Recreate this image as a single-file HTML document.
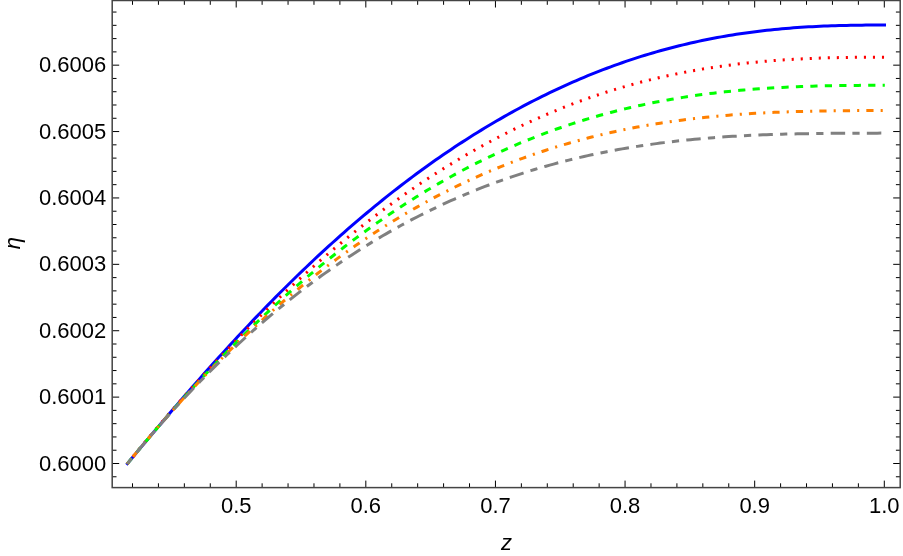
<!DOCTYPE html>
<html><head><meta charset="utf-8"><title>plot</title>
<style>
html,body{margin:0;padding:0;background:#fff;}
body{width:903px;height:556px;overflow:hidden;}
svg{display:block;will-change:transform;}
text{font-family:"Liberation Sans",sans-serif;font-size:22px;fill:#000;}
.it{font-style:italic;}
.c{fill:none;stroke-width:3;stroke-linecap:butt;stroke-linejoin:round;}
.tk{stroke:#000;stroke-width:1;fill:none;}
.fr{stroke:#444;stroke-width:1.5;fill:none;}
</style></head><body>
<svg width="903" height="556" viewBox="0 0 903 556">
<rect width="903" height="556" fill="#fff"/>
<path class="c" d="M126.43,464.82 L127.20,463.90 L131.01,459.31 L134.81,454.73 L138.62,450.16 L142.43,445.60 L146.24,441.05 L150.04,436.51 L153.85,431.99 L157.66,427.48 L161.46,422.98 L165.27,418.50 L169.08,414.03 L172.88,409.58 L176.69,405.14 L180.50,400.72 L184.31,396.32 L188.11,391.94 L191.92,387.58 L195.73,383.23 L199.53,378.91 L203.34,374.60 L207.15,370.32 L210.95,366.06 L214.76,361.81 L218.57,357.59 L222.38,353.39 L226.18,349.22 L229.99,345.07 L233.80,340.94 L237.60,336.83 L241.41,332.75 L245.22,328.69 L249.03,324.66 L252.83,320.65 L256.64,316.66 L260.45,312.70 L264.25,308.77 L268.06,304.86 L271.87,300.98 L275.67,297.12 L279.48,293.29 L283.29,289.49 L287.10,285.71 L290.90,281.96 L294.71,278.23 L298.52,274.54 L302.32,270.87 L306.13,267.23 L309.94,263.61 L313.74,260.02 L317.55,256.46 L321.36,252.93 L325.17,249.43 L328.97,245.95 L332.78,242.50 L336.59,239.08 L340.39,235.69 L344.20,232.32 L348.01,228.99 L351.82,225.68 L355.62,222.40 L359.43,219.15 L363.24,215.93 L367.04,212.73 L370.85,209.57 L374.66,206.43 L378.46,203.32 L382.27,200.24 L386.08,197.19 L389.89,194.16 L393.69,191.17 L397.50,188.20 L401.31,185.26 L405.11,182.35 L408.92,179.47 L412.73,176.62 L416.53,173.80 L420.34,171.00 L424.15,168.23 L427.96,165.50 L431.76,162.78 L435.57,160.10 L439.38,157.45 L443.18,154.82 L446.99,152.23 L450.80,149.66 L454.61,147.12 L458.41,144.61 L462.22,142.12 L466.03,139.67 L469.83,137.24 L473.64,134.84 L477.45,132.47 L481.25,130.13 L485.06,127.81 L488.87,125.52 L492.68,123.26 L496.48,121.03 L500.29,118.83 L504.10,116.65 L507.90,114.50 L511.71,112.38 L515.52,110.29 L519.32,108.22 L523.13,106.19 L526.94,104.18 L530.75,102.19 L534.55,100.24 L538.36,98.31 L542.17,96.41 L545.97,94.54 L549.78,92.69 L553.59,90.87 L557.39,89.08 L561.20,87.32 L565.01,85.58 L568.82,83.87 L572.62,82.19 L576.43,80.53 L580.24,78.90 L584.04,77.30 L587.85,75.72 L591.66,74.17 L595.47,72.65 L599.27,71.16 L603.08,69.69 L606.89,68.24 L610.69,66.83 L614.50,65.44 L618.31,64.07 L622.11,62.74 L625.92,61.42 L629.73,60.14 L633.54,58.88 L637.34,57.65 L641.15,56.44 L644.96,55.26 L648.76,54.10 L652.57,52.97 L656.38,51.87 L660.18,50.79 L663.99,49.73 L667.80,48.70 L671.61,47.70 L675.41,46.72 L679.22,45.77 L683.03,44.84 L686.83,43.93 L690.64,43.05 L694.45,42.19 L698.26,41.36 L702.06,40.55 L705.87,39.77 L709.68,39.01 L713.48,38.27 L717.29,37.56 L721.10,36.87 L724.90,36.20 L728.71,35.56 L732.52,34.93 L736.33,34.33 L740.13,33.76 L743.94,33.20 L747.75,32.67 L751.55,32.15 L755.36,31.66 L759.17,31.19 L762.97,30.74 L766.78,30.31 L770.59,29.91 L774.40,29.52 L778.20,29.15 L782.01,28.80 L785.82,28.46 L789.62,28.15 L793.43,27.85 L797.24,27.58 L801.05,27.32 L804.85,27.07 L808.66,26.85 L812.47,26.64 L816.27,26.44 L820.08,26.26 L823.89,26.10 L827.69,25.95 L831.50,25.81 L835.31,25.68 L839.12,25.57 L842.92,25.47 L846.73,25.39 L850.54,25.31 L854.34,25.24 L858.15,25.19 L861.96,25.14 L865.76,25.10 L869.57,25.07 L873.38,25.04 L877.19,25.02 L880.99,25.01 L884.80,25.00 L886.00,25.00" stroke="#0000ff"/>
<path class="c" d="M127.20,463.90 L131.01,459.20 L134.81,454.53 L138.62,449.89 L142.43,445.27 L146.24,440.69 L150.04,436.13 L153.85,431.59 L157.66,427.09 L161.46,422.61 L165.27,418.16 L169.08,413.74 L172.88,409.34 L176.69,404.98 L180.50,400.64 L184.31,396.32 L188.11,392.04 L191.92,387.78 L195.73,383.55 L199.53,379.35 L203.34,375.18 L207.15,371.03 L210.95,366.91 L214.76,362.82 L218.57,358.76 L222.38,354.72 L226.18,350.71 L229.99,346.73 L233.80,342.78 L237.60,338.86 L241.41,334.96 L245.22,331.09 L249.03,327.25 L252.83,323.44 L256.64,319.65 L260.45,315.90 L264.25,312.17 L268.06,308.47 L271.87,304.79 L275.67,301.15 L279.48,297.53 L283.29,293.94 L287.10,290.38 L290.90,286.85 L294.71,283.35 L298.52,279.87 L302.32,276.42 L306.13,273.00 L309.94,269.61 L313.74,266.25 L317.55,262.91 L321.36,259.61 L325.17,256.33 L328.97,253.08 L332.78,249.86 L336.59,246.67 L340.39,243.50 L344.20,240.36 L348.01,237.26 L351.82,234.18 L355.62,231.13 L359.43,228.10 L363.24,225.11 L367.04,222.14 L370.85,219.21 L374.66,216.30 L378.46,213.42 L382.27,210.56 L386.08,207.74 L389.89,204.95 L393.69,202.18 L397.50,199.44 L401.31,196.73 L405.11,194.05 L408.92,191.40 L412.73,188.78 L416.53,186.18 L420.34,183.61 L424.15,181.07 L427.96,178.56 L431.76,176.08 L435.57,173.63 L439.38,171.20 L443.18,168.81 L446.99,166.44 L450.80,164.10 L454.61,161.79 L458.41,159.50 L462.22,157.25 L466.03,155.02 L469.83,152.82 L473.64,150.65 L477.45,148.51 L481.25,146.40 L485.06,144.31 L488.87,142.25 L492.68,140.22 L496.48,138.22 L500.29,136.24 L504.10,134.30 L507.90,132.38 L511.71,130.49 L515.52,128.62 L519.32,126.79 L523.13,124.98 L526.94,123.20 L530.75,121.44 L534.55,119.72 L538.36,118.02 L542.17,116.35 L545.97,114.70 L549.78,113.08 L553.59,111.49 L557.39,109.93 L561.20,108.39 L565.01,106.88 L568.82,105.39 L572.62,103.94 L576.43,102.50 L580.24,101.10 L584.04,99.72 L587.85,98.36 L591.66,97.04 L595.47,95.74 L599.27,94.46 L603.08,93.21 L606.89,91.98 L610.69,90.78 L614.50,89.61 L618.31,88.46 L622.11,87.33 L625.92,86.23 L629.73,85.16 L633.54,84.10 L637.34,83.08 L641.15,82.07 L644.96,81.09 L648.76,80.14 L652.57,79.21 L656.38,78.30 L660.18,77.41 L663.99,76.55 L667.80,75.71 L671.61,74.89 L675.41,74.10 L679.22,73.32 L683.03,72.57 L686.83,71.84 L690.64,71.14 L694.45,70.45 L698.26,69.78 L702.06,69.14 L705.87,68.52 L709.68,67.91 L713.48,67.33 L717.29,66.77 L721.10,66.23 L724.90,65.70 L728.71,65.20 L732.52,64.71 L736.33,64.25 L740.13,63.80 L743.94,63.37 L747.75,62.95 L751.55,62.56 L755.36,62.18 L759.17,61.82 L762.97,61.48 L766.78,61.15 L770.59,60.84 L774.40,60.54 L778.20,60.26 L782.01,60.00 L785.82,59.75 L789.62,59.51 L793.43,59.29 L797.24,59.08 L801.05,58.88 L804.85,58.70 L808.66,58.53 L812.47,58.37 L816.27,58.23 L820.08,58.10 L823.89,57.97 L827.69,57.86 L831.50,57.76 L835.31,57.67 L839.12,57.59 L842.92,57.51 L846.73,57.45 L850.54,57.39 L854.34,57.34 L858.15,57.30 L861.96,57.27 L865.76,57.24 L869.57,57.22 L873.38,57.20 L877.19,57.19 L880.99,57.19 L884.80,57.19" stroke="#ff0000" stroke-dasharray="2.1 6.931"/>
<path class="c" d="M127.20,463.90 L131.01,459.25 L134.81,454.62 L138.62,450.03 L142.43,445.46 L146.24,440.93 L150.04,436.42 L153.85,431.95 L157.66,427.50 L161.46,423.09 L165.27,418.70 L169.08,414.35 L172.88,410.02 L176.69,405.73 L180.50,401.46 L184.31,397.23 L188.11,393.02 L191.92,388.85 L195.73,384.71 L199.53,380.60 L203.34,376.51 L207.15,372.46 L210.95,368.44 L214.76,364.45 L218.57,360.49 L222.38,356.56 L226.18,352.66 L229.99,348.79 L233.80,344.96 L237.60,341.15 L241.41,337.37 L245.22,333.63 L249.03,329.91 L252.83,326.23 L256.64,322.58 L260.45,318.96 L264.25,315.36 L268.06,311.80 L271.87,308.27 L275.67,304.77 L279.48,301.31 L283.29,297.87 L287.10,294.46 L290.90,291.08 L294.71,287.74 L298.52,284.42 L302.32,281.14 L306.13,277.89 L309.94,274.66 L313.74,271.47 L317.55,268.31 L321.36,265.18 L325.17,262.08 L328.97,259.01 L332.78,255.97 L336.59,252.97 L340.39,249.99 L344.20,247.04 L348.01,244.12 L351.82,241.24 L355.62,238.38 L359.43,235.56 L363.24,232.76 L367.04,229.99 L370.85,227.26 L374.66,224.56 L378.46,221.88 L382.27,219.24 L386.08,216.62 L389.89,214.04 L393.69,211.48 L397.50,208.96 L401.31,206.46 L405.11,204.00 L408.92,201.56 L412.73,199.16 L416.53,196.78 L420.34,194.43 L424.15,192.11 L427.96,189.83 L431.76,187.57 L435.57,185.34 L439.38,183.14 L443.18,180.96 L446.99,178.82 L450.80,176.71 L454.61,174.62 L458.41,172.56 L462.22,170.54 L466.03,168.54 L469.83,166.56 L473.64,164.62 L477.45,162.71 L481.25,160.82 L485.06,158.96 L488.87,157.13 L492.68,155.32 L496.48,153.55 L500.29,151.80 L504.10,150.08 L507.90,148.38 L511.71,146.72 L515.52,145.08 L519.32,143.46 L523.13,141.88 L526.94,140.32 L530.75,138.79 L534.55,137.28 L538.36,135.80 L542.17,134.34 L545.97,132.92 L549.78,131.51 L553.59,130.14 L557.39,128.78 L561.20,127.46 L565.01,126.16 L568.82,124.88 L572.62,123.63 L576.43,122.40 L580.24,121.20 L584.04,120.02 L587.85,118.87 L591.66,117.74 L595.47,116.64 L599.27,115.55 L603.08,114.50 L606.89,113.46 L610.69,112.45 L614.50,111.46 L618.31,110.49 L622.11,109.55 L625.92,108.63 L629.73,107.73 L633.54,106.85 L637.34,106.00 L641.15,105.17 L644.96,104.35 L648.76,103.56 L652.57,102.79 L656.38,102.04 L660.18,101.31 L663.99,100.60 L667.80,99.92 L671.61,99.25 L675.41,98.60 L679.22,97.97 L683.03,97.36 L686.83,96.77 L690.64,96.19 L694.45,95.64 L698.26,95.10 L702.06,94.58 L705.87,94.08 L709.68,93.60 L713.48,93.14 L717.29,92.69 L721.10,92.25 L724.90,91.84 L728.71,91.44 L732.52,91.05 L736.33,90.69 L740.13,90.33 L743.94,90.00 L747.75,89.67 L751.55,89.36 L755.36,89.07 L759.17,88.79 L762.97,88.52 L766.78,88.27 L770.59,88.03 L774.40,87.80 L778.20,87.59 L782.01,87.38 L785.82,87.19 L789.62,87.01 L793.43,86.84 L797.24,86.69 L801.05,86.54 L804.85,86.40 L808.66,86.28 L812.47,86.16 L816.27,86.05 L820.08,85.95 L823.89,85.86 L827.69,85.78 L831.50,85.71 L835.31,85.64 L839.12,85.58 L842.92,85.53 L846.73,85.48 L850.54,85.44 L854.34,85.41 L858.15,85.38 L861.96,85.36 L865.76,85.34 L869.57,85.32 L873.38,85.31 L877.19,85.30 L880.99,85.30 L884.80,85.30" stroke="#00ff00" stroke-dasharray="7.231 7.231"/>
<path class="c" d="M127.20,463.90 L131.01,459.22 L134.81,454.57 L138.62,449.96 L142.43,445.39 L146.24,440.86 L150.04,436.36 L153.85,431.90 L157.66,427.47 L161.46,423.09 L165.27,418.74 L169.08,414.42 L172.88,410.14 L176.69,405.90 L180.50,401.70 L184.31,397.53 L188.11,393.39 L191.92,389.30 L195.73,385.24 L199.53,381.21 L203.34,377.22 L207.15,373.26 L210.95,369.34 L214.76,365.46 L218.57,361.61 L222.38,357.80 L226.18,354.02 L229.99,350.27 L233.80,346.56 L237.60,342.89 L241.41,339.25 L245.22,335.64 L249.03,332.07 L252.83,328.53 L256.64,325.03 L260.45,321.56 L264.25,318.12 L268.06,314.72 L271.87,311.35 L275.67,308.02 L279.48,304.72 L283.29,301.45 L287.10,298.22 L290.90,295.02 L294.71,291.85 L298.52,288.72 L302.32,285.61 L306.13,282.55 L309.94,279.51 L313.74,276.51 L317.55,273.54 L321.36,270.60 L325.17,267.69 L328.97,264.82 L332.78,261.97 L336.59,259.16 L340.39,256.39 L344.20,253.64 L348.01,250.92 L351.82,248.24 L355.62,245.59 L359.43,242.97 L363.24,240.38 L367.04,237.82 L370.85,235.29 L374.66,232.79 L378.46,230.33 L382.27,227.89 L386.08,225.49 L389.89,223.11 L393.69,220.77 L397.50,218.45 L401.31,216.17 L405.11,213.91 L408.92,211.69 L412.73,209.49 L416.53,207.33 L420.34,205.19 L424.15,203.08 L427.96,201.00 L431.76,198.95 L435.57,196.93 L439.38,194.94 L443.18,192.98 L446.99,191.04 L450.80,189.13 L454.61,187.26 L458.41,185.40 L462.22,183.58 L466.03,181.79 L469.83,180.02 L473.64,178.28 L477.45,176.57 L481.25,174.88 L485.06,173.22 L488.87,171.59 L492.68,169.98 L496.48,168.40 L500.29,166.85 L504.10,165.32 L507.90,163.82 L511.71,162.35 L515.52,160.90 L519.32,159.48 L523.13,158.08 L526.94,156.71 L530.75,155.36 L534.55,154.04 L538.36,152.74 L542.17,151.47 L545.97,150.22 L549.78,148.99 L553.59,147.79 L557.39,146.62 L561.20,145.46 L565.01,144.33 L568.82,143.23 L572.62,142.14 L576.43,141.08 L580.24,140.05 L584.04,139.03 L587.85,138.04 L591.66,137.07 L595.47,136.12 L599.27,135.20 L603.08,134.29 L606.89,133.41 L610.69,132.55 L614.50,131.71 L618.31,130.89 L622.11,130.09 L625.92,129.31 L629.73,128.55 L633.54,127.81 L637.34,127.09 L641.15,126.39 L644.96,125.71 L648.76,125.05 L652.57,124.41 L656.38,123.79 L660.18,123.18 L663.99,122.59 L667.80,122.02 L671.61,121.47 L675.41,120.94 L679.22,120.42 L683.03,119.92 L686.83,119.44 L690.64,118.97 L694.45,118.52 L698.26,118.09 L702.06,117.67 L705.87,117.27 L709.68,116.88 L713.48,116.51 L717.29,116.15 L721.10,115.81 L724.90,115.48 L728.71,115.16 L732.52,114.86 L736.33,114.57 L740.13,114.30 L743.94,114.03 L747.75,113.78 L751.55,113.54 L755.36,113.32 L759.17,113.10 L762.97,112.90 L766.78,112.71 L770.59,112.53 L774.40,112.36 L778.20,112.20 L782.01,112.05 L785.82,111.91 L789.62,111.77 L793.43,111.65 L797.24,111.54 L801.05,111.43 L804.85,111.33 L808.66,111.24 L812.47,111.16 L816.27,111.08 L820.08,111.01 L823.89,110.95 L827.69,110.89 L831.50,110.84 L835.31,110.79 L839.12,110.75 L842.92,110.72 L846.73,110.68 L850.54,110.65 L854.34,110.63 L858.15,110.60 L861.96,110.59 L865.76,110.57 L869.57,110.55 L873.38,110.54 L877.19,110.53 L880.99,110.51 L884.80,110.50" stroke="#ff8000" stroke-dasharray="2.1 7.081 7.231 7.081"/>
<path class="c" d="M127.20,463.90 L131.01,459.21 L134.81,454.56 L138.62,449.96 L142.43,445.40 L146.24,440.88 L150.04,436.40 L153.85,431.97 L157.66,427.58 L161.46,423.23 L165.27,418.92 L169.08,414.66 L172.88,410.43 L176.69,406.25 L180.50,402.11 L184.31,398.01 L188.11,393.95 L191.92,389.92 L195.73,385.94 L199.53,382.00 L203.34,378.10 L207.15,374.24 L210.95,370.42 L214.76,366.64 L218.57,362.89 L222.38,359.19 L226.18,355.52 L229.99,351.89 L233.80,348.30 L237.60,344.75 L241.41,341.24 L245.22,337.76 L249.03,334.32 L252.83,330.92 L256.64,327.55 L260.45,324.22 L264.25,320.93 L268.06,317.68 L271.87,314.46 L275.67,311.28 L279.48,308.13 L283.29,305.02 L287.10,301.94 L290.90,298.90 L294.71,295.90 L298.52,292.93 L302.32,289.99 L306.13,287.09 L309.94,284.23 L313.74,281.39 L317.55,278.60 L321.36,275.83 L325.17,273.10 L328.97,270.41 L332.78,267.74 L336.59,265.11 L340.39,262.52 L344.20,259.95 L348.01,257.42 L351.82,254.92 L355.62,252.45 L359.43,250.02 L363.24,247.61 L367.04,245.24 L370.85,242.90 L374.66,240.60 L378.46,238.32 L382.27,236.07 L386.08,233.86 L389.89,231.67 L393.69,229.52 L397.50,227.39 L401.31,225.30 L405.11,223.23 L408.92,221.20 L412.73,219.19 L416.53,217.22 L420.34,215.27 L424.15,213.36 L427.96,211.47 L431.76,209.61 L435.57,207.78 L439.38,205.97 L443.18,204.20 L446.99,202.45 L450.80,200.73 L454.61,199.04 L458.41,197.37 L462.22,195.74 L466.03,194.12 L469.83,192.54 L473.64,190.98 L477.45,189.45 L481.25,187.95 L485.06,186.47 L488.87,185.02 L492.68,183.59 L496.48,182.19 L500.29,180.81 L504.10,179.46 L507.90,178.13 L511.71,176.83 L515.52,175.55 L519.32,174.30 L523.13,173.07 L526.94,171.86 L530.75,170.68 L534.55,169.52 L538.36,168.39 L542.17,167.28 L545.97,166.19 L549.78,165.12 L553.59,164.08 L557.39,163.05 L561.20,162.06 L565.01,161.08 L568.82,160.12 L572.62,159.19 L576.43,158.27 L580.24,157.38 L584.04,156.51 L587.85,155.66 L591.66,154.83 L595.47,154.02 L599.27,153.23 L603.08,152.46 L606.89,151.70 L610.69,150.97 L614.50,150.26 L618.31,149.57 L622.11,148.89 L625.92,148.23 L629.73,147.60 L633.54,146.97 L637.34,146.37 L641.15,145.79 L644.96,145.22 L648.76,144.67 L652.57,144.13 L656.38,143.62 L660.18,143.11 L663.99,142.63 L667.80,142.16 L671.61,141.71 L675.41,141.27 L679.22,140.84 L683.03,140.44 L686.83,140.04 L690.64,139.66 L694.45,139.30 L698.26,138.95 L702.06,138.61 L705.87,138.29 L709.68,137.97 L713.48,137.68 L717.29,137.39 L721.10,137.12 L724.90,136.86 L728.71,136.61 L732.52,136.37 L736.33,136.15 L740.13,135.93 L743.94,135.73 L747.75,135.53 L751.55,135.35 L755.36,135.18 L759.17,135.01 L762.97,134.86 L766.78,134.71 L770.59,134.58 L774.40,134.45 L778.20,134.33 L782.01,134.22 L785.82,134.11 L789.62,134.02 L793.43,133.93 L797.24,133.84 L801.05,133.77 L804.85,133.70 L808.66,133.63 L812.47,133.57 L816.27,133.52 L820.08,133.47 L823.89,133.43 L827.69,133.39 L831.50,133.36 L835.31,133.32 L839.12,133.30 L842.92,133.27 L846.73,133.25 L850.54,133.23 L854.34,133.21 L858.15,133.19 L861.96,133.18 L865.76,133.16 L869.57,133.15 L873.38,133.14 L877.19,133.13 L880.99,133.11 L884.80,133.10" stroke="#808080" stroke-dasharray="7.231 7.231 14.462 7.231"/>
<path class="tk" d="M132.50,487.6 v-4.3 M132.50,0.5 v4.3 M158.43,487.6 v-4.3 M158.43,0.5 v4.3 M184.35,487.6 v-4.3 M184.35,0.5 v4.3 M210.28,487.6 v-4.3 M210.28,0.5 v4.3 M236.20,487.6 v-7.0 M236.20,0.5 v7.0 M262.12,487.6 v-4.3 M262.12,0.5 v4.3 M288.05,487.6 v-4.3 M288.05,0.5 v4.3 M313.97,487.6 v-4.3 M313.97,0.5 v4.3 M339.90,487.6 v-4.3 M339.90,0.5 v4.3 M365.82,487.6 v-7.0 M365.82,0.5 v7.0 M391.74,487.6 v-4.3 M391.74,0.5 v4.3 M417.67,487.6 v-4.3 M417.67,0.5 v4.3 M443.59,487.6 v-4.3 M443.59,0.5 v4.3 M469.52,487.6 v-4.3 M469.52,0.5 v4.3 M495.44,487.6 v-7.0 M495.44,0.5 v7.0 M521.36,487.6 v-4.3 M521.36,0.5 v4.3 M547.29,487.6 v-4.3 M547.29,0.5 v4.3 M573.21,487.6 v-4.3 M573.21,0.5 v4.3 M599.14,487.6 v-4.3 M599.14,0.5 v4.3 M625.06,487.6 v-7.0 M625.06,0.5 v7.0 M650.98,487.6 v-4.3 M650.98,0.5 v4.3 M676.91,487.6 v-4.3 M676.91,0.5 v4.3 M702.83,487.6 v-4.3 M702.83,0.5 v4.3 M728.76,487.6 v-4.3 M728.76,0.5 v4.3 M754.68,487.6 v-7.0 M754.68,0.5 v7.0 M780.60,487.6 v-4.3 M780.60,0.5 v4.3 M806.53,487.6 v-4.3 M806.53,0.5 v4.3 M832.45,487.6 v-4.3 M832.45,0.5 v4.3 M858.38,487.6 v-4.3 M858.38,0.5 v4.3 M884.30,487.6 v-7.0 M884.30,0.5 v7.0 M112.2,476.78 h4.3 M900.2,476.78 h-4.3 M112.2,463.50 h7.0 M900.2,463.50 h-7.0 M112.2,450.22 h4.3 M900.2,450.22 h-4.3 M112.2,436.94 h4.3 M900.2,436.94 h-4.3 M112.2,423.67 h4.3 M900.2,423.67 h-4.3 M112.2,410.39 h4.3 M900.2,410.39 h-4.3 M112.2,397.11 h7.0 M900.2,397.11 h-7.0 M112.2,383.83 h4.3 M900.2,383.83 h-4.3 M112.2,370.55 h4.3 M900.2,370.55 h-4.3 M112.2,357.28 h4.3 M900.2,357.28 h-4.3 M112.2,344.00 h4.3 M900.2,344.00 h-4.3 M112.2,330.72 h7.0 M900.2,330.72 h-7.0 M112.2,317.44 h4.3 M900.2,317.44 h-4.3 M112.2,304.16 h4.3 M900.2,304.16 h-4.3 M112.2,290.89 h4.3 M900.2,290.89 h-4.3 M112.2,277.61 h4.3 M900.2,277.61 h-4.3 M112.2,264.33 h7.0 M900.2,264.33 h-7.0 M112.2,251.05 h4.3 M900.2,251.05 h-4.3 M112.2,237.77 h4.3 M900.2,237.77 h-4.3 M112.2,224.50 h4.3 M900.2,224.50 h-4.3 M112.2,211.22 h4.3 M900.2,211.22 h-4.3 M112.2,197.94 h7.0 M900.2,197.94 h-7.0 M112.2,184.66 h4.3 M900.2,184.66 h-4.3 M112.2,171.38 h4.3 M900.2,171.38 h-4.3 M112.2,158.11 h4.3 M900.2,158.11 h-4.3 M112.2,144.83 h4.3 M900.2,144.83 h-4.3 M112.2,131.55 h7.0 M900.2,131.55 h-7.0 M112.2,118.27 h4.3 M900.2,118.27 h-4.3 M112.2,104.99 h4.3 M900.2,104.99 h-4.3 M112.2,91.72 h4.3 M900.2,91.72 h-4.3 M112.2,78.44 h4.3 M900.2,78.44 h-4.3 M112.2,65.16 h7.0 M900.2,65.16 h-7.0 M112.2,51.88 h4.3 M900.2,51.88 h-4.3 M112.2,38.60 h4.3 M900.2,38.60 h-4.3 M112.2,25.33 h4.3 M900.2,25.33 h-4.3 M112.2,12.05 h4.3 M900.2,12.05 h-4.3"/>
<rect class="fr" x="112.2" y="0.5" width="788.0" height="487.1"/>
<text x="236.20" y="512.8" text-anchor="middle">0.5</text>
<text x="365.82" y="512.8" text-anchor="middle">0.6</text>
<text x="495.44" y="512.8" text-anchor="middle">0.7</text>
<text x="625.06" y="512.8" text-anchor="middle">0.8</text>
<text x="754.68" y="512.8" text-anchor="middle">0.9</text>
<text x="884.30" y="512.8" text-anchor="middle">1.0</text>
<text x="106.3" y="470.60" text-anchor="end">0.6000</text>
<text x="106.3" y="404.21" text-anchor="end">0.6001</text>
<text x="106.3" y="337.82" text-anchor="end">0.6002</text>
<text x="106.3" y="271.43" text-anchor="end">0.6003</text>
<text x="106.3" y="205.04" text-anchor="end">0.6004</text>
<text x="106.3" y="138.65" text-anchor="end">0.6005</text>
<text x="106.3" y="72.26" text-anchor="end">0.6006</text>
<text class="it" x="506.4" y="549.5" text-anchor="middle" style="font-size:22px">z</text>
<text class="it" transform="translate(20,243.2) rotate(-90)" text-anchor="middle" style="font-size:22px">&#951;</text>
</svg></body></html>
